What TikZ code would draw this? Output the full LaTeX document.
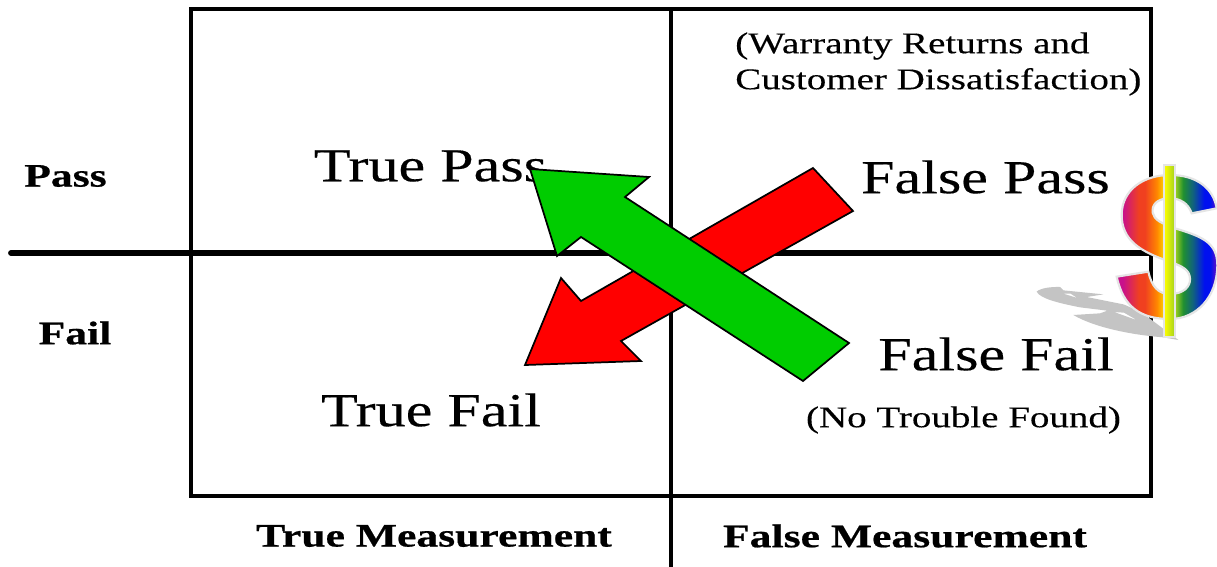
\documentclass[tikz,border=0pt]{standalone}
\usepackage{fontspec}
\setmainfont{Liberation Serif}
\newfontfamily\widereg[FakeStretch=1.27,FakeBold=0.25]{Liberation Serif}
\newfontfamily\widesmall[FakeStretch=1.3,FakeBold=0.25]{Liberation Serif}
\newfontfamily\widebold[FakeStretch=1.33,FakeBold=0.6]{Liberation Serif Bold}
\usetikzlibrary{shadings}
\definecolor{rbm}{HTML}{C8108C}
\definecolor{rbr}{HTML}{F04020}
\definecolor{rbo}{HTML}{FF8800}
\definecolor{rby}{HTML}{FFFF00}
\definecolor{rbl}{HTML}{A0D020}
\definecolor{rbg}{HTML}{209030}
\definecolor{rbt}{HTML}{106080}
\definecolor{rbb}{HTML}{0010F0}
\definecolor{rbp}{HTML}{7010C0}
\definecolor{arrowgreen}{HTML}{00CC00}
\definecolor{arrowred}{HTML}{FF0000}
\definecolor{shadowgrey}{HTML}{C4C4C4}
\pgfdeclarehorizontalshading{rainbowdollar}{100bp}{
  color(0bp)=(rbm); color(28bp)=(rbm); color(36bp)=(rbr); color(39bp)=(rbr); color(45bp)=(rbo);
  color(50.6bp)=(rby); color(54bp)=(rbl); color(58bp)=(rbg); color(63bp)=(rbt); color(68.5bp)=(rbb); color(71.5bp)=(rbb); color(75bp)=(rbp); color(100bp)=(rbp)}
\tikzset{
  rule/.style={line width=4.4pt,line cap=round},
  frame/.style={line width=3pt},
  big/.style={inner sep=0pt,font=\widereg\fontsize{35.5}{40}\selectfont},
  mid/.style={inner sep=0pt,font=\widebold\fontsize{24.6}{27}\selectfont},
  small/.style={inner sep=0pt,align=left,font=\widesmall\fontsize{22.5}{27}\selectfont},
  blockarrow/.style={draw=black,line width=1.3pt,line join=miter},
  dollarline/.style={draw=black!10,line width=1.6pt}
}
\begin{document}
\begin{tikzpicture}[x=0.75pt,y=-0.75pt]
\useasboundingbox (0,0) rectangle (1217,567);
\fill[white] (0,0) rectangle (1217,567);
\coordinate (vt) at (671,9);
\coordinate (vb) at (671,567);
\coordinate (hl) at (11,253);
\coordinate (hr) at (1151,253);
\draw[frame] (191,9) rectangle (1151,496);
\draw[frame,line width=3.7pt] (vt) -- (vb);
\draw[rule] (hl) -- (hr);
\node[mid] (pass) at (65.5,176) {Pass};
\node[mid] (fail) at (75,333) {Fail};
\node[big] (tp) at (430.5,166) {True Pass};
\node[big] (fp) at (985.5,177) {False Pass};
\node[big] (ff) at (996,354) {False Fail};
\node[big] (tf) at (431,410) {True Fail};
\node[small,anchor=west] (wr) at (735,64) {(Warranty Returns and\\Customer Dissatisfaction)};
\node[small] (ntf) at (963.5,420) {(No Trouble Found)};
\node[mid] (tm) at (434,536) {True Measurement};
\node[mid] (fm) at (905,536) {False Measurement};
\draw[blockarrow,fill=arrowred] (813,168) -- (853,211) -- (621,341) -- (641,361) -- (525,365) -- (561,278) -- (581,301) -- cycle;
\draw[blockarrow,fill=arrowgreen] (530,169) -- (649,177) -- (625,197) -- (849,343) -- (803,381) -- (581,237) -- (557,256) -- cycle;
\begin{scope}[shift={(1020,150)},x=0.25pt,y=-0.25pt]
  \fill[shadowgrey,even odd rule] (50,425) .. controls (60,415) and (90,410) .. (120,411) -- (130,421) -- (250,433) -- (200,441) -- (310,463) .. controls (340,475) and (370,490) .. (395,510) -- (475,570) -- (430,562) .. controls (350,556) and (230,536) .. (160,495) -- (240,490) -- (262,482) -- (180,472) .. controls (110,458) and (60,445) .. (50,425) -- cycle
    (130,431) -- (172,444) -- (152,431) -- cycle
    (282,486) -- (352,511) -- (312,488) -- cycle;
  \path[dollarline,shading=rainbowdollar,shading angle=0]
    (590,175) -- (515,190) .. controls (505,160) and (480,145) .. (450,145)
    .. controls (410,145) and (395,165) .. (398,188) .. controls (402,210) and (425,220) .. (465,235)
    .. controls (540,258) and (592,275) .. (592,345) .. controls (592,440) and (530,507) .. (450,507)
    .. controls (360,507) and (310,470) .. (290,380) -- (385,365)
    .. controls (395,410) and (415,432) .. (450,432) .. controls (490,432) and (512,410) .. (510,385)
    .. controls (508,360) and (490,350) .. (450,335) .. controls (360,305) and (305,270) .. (305,195)
    .. controls (305,120) and (370,75) .. (450,75) .. controls (530,75) and (580,115) .. (590,175) -- cycle;
  \path[dollarline,left color=rby,right color=rbl] (432,46) rectangle (466,560);
\end{scope}
\end{tikzpicture}
\end{document}
